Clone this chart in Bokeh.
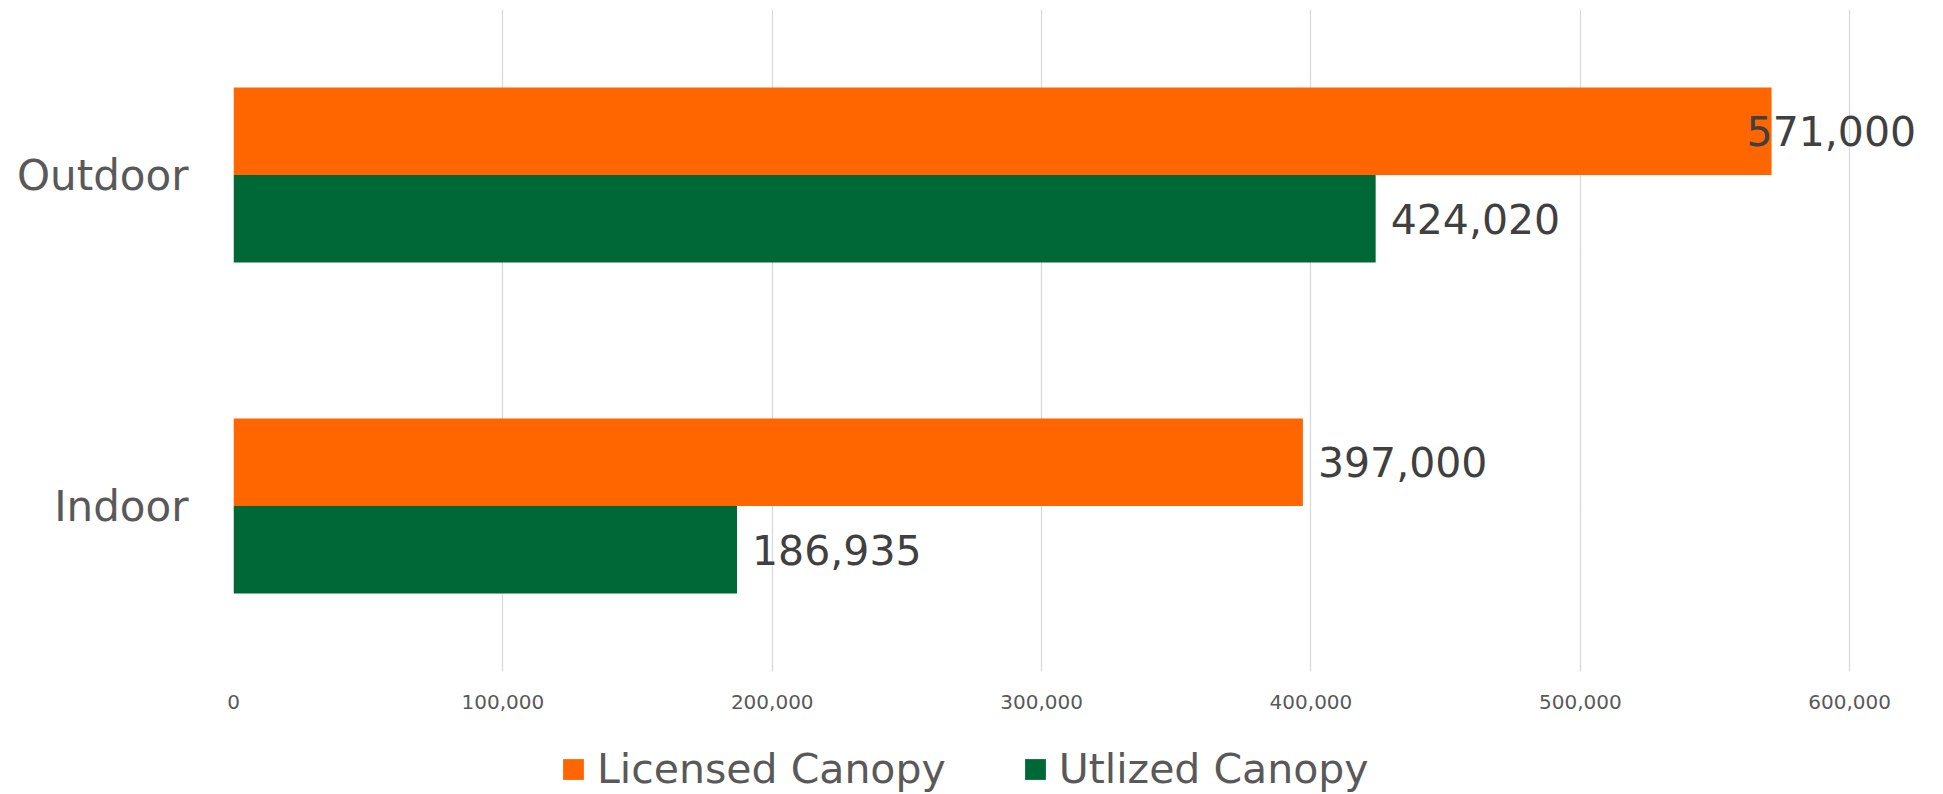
from bokeh.plotting import figure
from bokeh.models import (ColumnDataSource, FactorRange, Range1d, FixedTicker,
                          NumeralTickFormatter, Legend, LegendItem)
from bokeh.layouts import column
from bokeh.transform import dodge
from bokeh.core.properties import value
from bokeh.embed import file_html
from bokeh.resources import INLINE

# ---- data ----
categories = ["Indoor", "Outdoor"]
licensed = [397000, 571000]
utilized = [186935, 424020]
series_names = ["Licensed Canopy", "Utlized Canopy"]
x_ticks = [0, 100000, 200000, 300000, 400000, 500000, 600000]

ORANGE = "#FF6600"
GREEN = "#006837"
FONT = "DejaVu Sans"

def fmt(v):
    return f"{v:,}"

def offsets(vals):
    # labels that would run past the chart edge are pulled back over the bar
    return [15 if v < 550000 else -25 for v in vals]

src_l = ColumnDataSource(dict(cat=categories, val=licensed,
                              lab=[fmt(v) for v in licensed], off=offsets(licensed)))
src_u = ColumnDataSource(dict(cat=categories, val=utilized,
                              lab=[fmt(v) for v in utilized], off=offsets(utilized)))

W = 1943
H1 = 722
H2 = 794 - H1

p = figure(width=W, height=H1, output_backend="svg", toolbar_location=None,
           y_range=FactorRange(factors=categories, range_padding=0),
           x_range=Range1d(0, 630000),
           min_border_left=233, min_border_right=13, min_border_top=9,
           min_border_bottom=H1 - 671)
p.outline_line_color = None
p.background_fill_color = "white"
p.border_fill_color = "white"

p.hbar(y=dodge("cat", 0.132, range=p.y_range), right="val", left=0,
       height=0.264, source=src_l, fill_color=ORANGE, line_color=None)
p.hbar(y=dodge("cat", -0.132, range=p.y_range), right="val", left=0,
       height=0.264, source=src_u, fill_color=GREEN, line_color=None)

for src, dv in ((src_l, 0.132), (src_u, -0.132)):
    p.text(x="val", y=dodge("cat", dv, range=p.y_range), text="lab", source=src,
           x_offset="off", text_font=value(FONT), text_font_size="41px",
           text_color="#404040", text_baseline="middle", text_align="left")

# axes
p.xaxis.ticker = FixedTicker(ticks=x_ticks)
p.xaxis.formatter = NumeralTickFormatter(format="0,0")
p.xaxis.axis_line_color = None
p.xaxis.major_tick_line_color = None
p.xaxis.minor_tick_line_color = None
p.xaxis.major_tick_out = 0
p.xaxis.major_tick_in = 0
p.xaxis.major_label_standoff = 23
p.xaxis.major_label_text_font = FONT
p.xaxis.major_label_text_font_size = "20px"
p.xaxis.major_label_text_color = "#595959"

p.yaxis.axis_line_color = None
p.yaxis.major_tick_line_color = None
p.yaxis.minor_tick_line_color = None
p.yaxis.major_tick_out = 0
p.yaxis.major_tick_in = 0
p.yaxis.major_label_standoff = 45
p.yaxis.major_label_text_font = FONT
p.yaxis.major_label_text_font_size = "42px"
p.yaxis.major_label_text_color = "#595959"

p.xgrid.grid_line_color = "#D9D9D9"
p.xgrid.grid_line_width = 1.3
p.xgrid.ticker = FixedTicker(ticks=x_ticks)
p.ygrid.grid_line_color = None

# ---- legend strip (own figure, so the legend can sit below the axis) ----
# the same series feed the legend here; they are kept out of view (zero height)
q = figure(width=W, height=H2, output_backend="svg", toolbar_location=None,
           x_axis_type=None, y_axis_type=None,
           x_range=Range1d(700000, 1400000), y_range=FactorRange(factors=categories),
           min_border=0)
q.outline_line_color = None
q.background_fill_color = "white"
q.border_fill_color = "white"
q.xgrid.visible = False
q.ygrid.visible = False
k_l = q.hbar(y="cat", right="val", left=0, height=0, source=src_l,
             fill_color=ORANGE, line_color=None)
k_u = q.hbar(y="cat", right="val", left=0, height=0, source=src_u,
             fill_color=GREEN, line_color=None)

legend = Legend(items=[LegendItem(label=series_names[0], renderers=[k_l]),
                       LegendItem(label=series_names[1], renderers=[k_u])],
                orientation="horizontal", location=(327, 1),
                glyph_width=26, glyph_height=26, label_standoff=11, spacing=76,
                padding=0, margin=0, border_line_color=None,
                background_fill_alpha=0,
                label_text_font=FONT, label_text_font_size="41px",
                label_text_color="#595959")
q.add_layout(legend, "center")

layout = column(p, q, spacing=0)
open("out.html", "w").write(file_html(layout, INLINE))
